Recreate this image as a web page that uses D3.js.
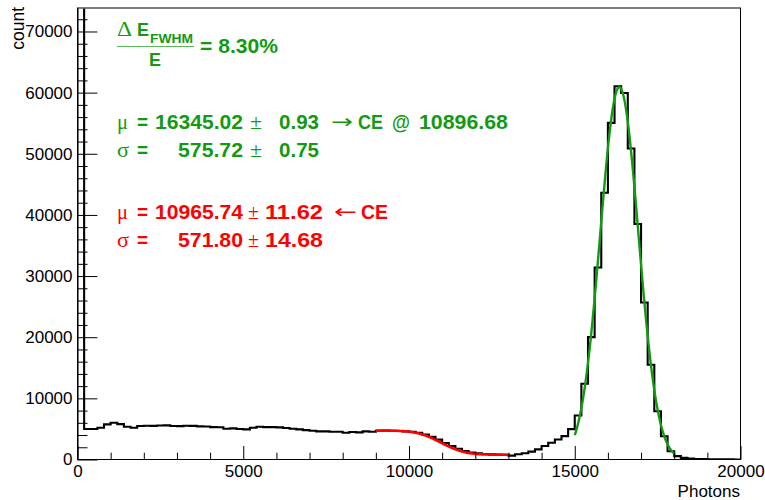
<!DOCTYPE html>
<html>
<head>
<meta charset="utf-8">
<script src="https://cdn.jsdelivr.net/npm/d3@7"></script>
<style>
  body { margin: 0; background: #fff; }
  svg { display: block; }
</style>
</head>
<body>
<svg id="chart" width="765" height="500"></svg>
<script>
// Photon-count histogram: 100 bins of 200 photons from 0 to 20000
const binWidth = 200;
const xRange = [0, 20000];
const counts = [
  90000, 4980, 5000, 5200, 5740, 6010, 5790, 5360, 5200, 5470,
  5520, 5500, 5560, 5580, 5480, 5460, 5520, 5500, 5420, 5400,
  5300, 5280, 5030, 5090, 4980, 4930, 5200, 5360, 5300, 5300,
  5250, 5140, 5030, 4930, 4810, 4700, 4600, 4600, 4540, 4540,
  4370, 4490, 4430, 4600, 4540, 4700, 4720, 4700, 4650, 4600,
  4520, 4380, 4100, 3700, 3250, 2700, 2200, 1750, 1400, 1150,
  1000, 900, 850, 800, 760, 640, 850, 1010, 1280, 1650,
  2200, 2740, 3280, 3820, 4960, 7200, 12400, 20020, 31390, 43630,
  55060, 61040, 59950, 50870, 38520, 25680, 15500, 7890, 3810, 1360,
  550, 270, 150, 90, 60, 40, 30, 20, 15, 10
];

// Axis ticks
const xMajorTicks = [0, 5000, 10000, 15000, 20000];
const xMinorTicks = [1000, 2000, 3000, 4000, 6000, 7000, 8000, 9000, 11000, 12000, 13000, 14000, 16000, 17000, 18000, 19000];
const yMajorTicks = [0, 10000, 20000, 30000, 40000, 50000, 60000, 70000];
const yMinorTicks = [2000, 4000, 6000, 8000, 12000, 14000, 16000, 18000, 22000, 24000, 26000, 28000,
  32000, 34000, 36000, 38000, 42000, 44000, 46000, 48000, 52000, 54000, 56000, 58000,
  62000, 64000, 66000, 68000, 72000];
const yMax = 73760;

// Fit results
const peakFit = { amp: 60900, mu: 16345.02, sigma: 575.72, from: 15000, to: 18000 };
const edgeFit = { amp: 3950, base: 780, mu: 10965.74, sigma: 571.80, from: 9000, to: 13000 };

const GREEN = "#139a13";
const RED = "#ff0000";
const SANS = "'Liberation Sans', Arial, Helvetica, sans-serif";
const SYMB = "'Liberation Serif', 'Times New Roman', serif";
const ARROW = "'DejaVu Sans', sans-serif";

const svg = d3.select("#chart");
const x = d3.scaleLinear().domain(xRange).range([77.5, 740.5]);
const y = d3.scaleLinear().domain([0, yMax]).range([459.5, 8.5]);

svg.append("defs").append("clipPath").attr("id", "frame")
  .append("rect").attr("x", x(0)).attr("y", y(yMax)).attr("width", x(20000) - x(0)).attr("height", y(0) - y(yMax));

// Histogram outline
const pts = [[0, 0]];
counts.forEach((c, i) => { pts.push([i * binWidth, c]); pts.push([(i + 1) * binWidth, c]); });
pts.push([xRange[1], 0]);
const line = d3.line().x(d => x(d[0])).y(d => y(d[1]));
svg.append("path").attr("clip-path", "url(#frame)")
  .attr("d", line(pts)).attr("fill", "none").attr("stroke", "#000").attr("stroke-width", 2.1)
  .attr("stroke-linejoin", "miter");

// erfc approximation (Abramowitz & Stegun 7.1.26)
function erfc(z) {
  const t = 1 / (1 + 0.3275911 * Math.abs(z));
  const p = t * (0.254829592 + t * (-0.284496736 + t * (1.421413741 + t * (-1.453152027 + t * 1.061405429))));
  const e = p * Math.exp(-z * z);
  return z >= 0 ? e : 2 - e;
}
function sample(f, a, b, n) { return d3.range(n + 1).map(i => { const v = a + (b - a) * i / n; return [v, f(v)]; }); }

const gauss = v => peakFit.amp * Math.exp(-0.5 * Math.pow((v - peakFit.mu) / peakFit.sigma, 2));
const edge = v => edgeFit.base + edgeFit.amp * 0.5 * erfc((v - edgeFit.mu) / (Math.SQRT2 * edgeFit.sigma));
const smooth = d3.line().x(d => x(d[0])).y(d => y(d[1])).curve(d3.curveMonotoneX);

svg.append("path").attr("d", smooth(sample(edge, edgeFit.from, edgeFit.to, 200)))
  .attr("fill", "none").attr("stroke", RED).attr("stroke-width", 2.6);
svg.append("path").attr("d", smooth(sample(gauss, peakFit.from, peakFit.to, 300)))
  .attr("fill", "none").attr("stroke", GREEN).attr("stroke-width", 2.4);

// Axes (ticks point inward, as on a ROOT frame)
function styleAxis(g) {
  g.select(".domain").remove();
  g.selectAll("line").attr("stroke", "#000").attr("stroke-width", 1);
  g.selectAll("text").attr("font-family", SANS).attr("font-size", 17).attr("fill", "#000");
}
svg.append("g").attr("transform", `translate(0,${y(0)})`)
  .call(d3.axisBottom(x).tickValues(xMinorTicks).tickSize(-6.8).tickFormat(""))
  .call(styleAxis);
svg.append("g").attr("transform", `translate(0,${y(0)})`)
  .call(d3.axisBottom(x).tickValues(xMajorTicks).tickSize(-13.5).tickPadding(5.5).tickFormat(d3.format("d")))
  .call(styleAxis);
svg.append("g").attr("transform", `translate(${x(0)},0)`)
  .call(d3.axisLeft(y).tickValues(yMinorTicks).tickSize(-10).tickFormat(""))
  .call(styleAxis);
svg.append("g").attr("transform", `translate(${x(0)},0)`)
  .call(d3.axisLeft(y).tickValues(yMajorTicks).tickSize(-19.9).tickPadding(5).tickFormat(d3.format("d")))
  .call(styleAxis);

// Frame
svg.append("rect").attr("x", x(0)).attr("y", y(yMax) - 0.5).attr("width", x(20000) - x(0)).attr("height", y(0) - y(yMax) + 0.5)
  .attr("fill", "none").attr("stroke", "#000").attr("stroke-width", 1);

// Axis titles
svg.append("text").attr("x", 740).attr("y", 496.5).attr("text-anchor", "end")
  .attr("font-family", SANS).attr("font-size", 17).text("Photons");
svg.append("text").attr("transform", "translate(23.5,7) rotate(-90)").attr("text-anchor", "end")
  .attr("font-family", SANS).attr("font-size", 17.5).text("count");

// Text tokens: [string, x, baseline, kind, size, width]; kind: 0 bold sans, 1 symbol, 2 arrow
function tokens(list, color) {
  list.forEach(([s, tx, ty, kind, size, w]) => {
    const t = svg.append("text").attr("x", tx).attr("y", ty).attr("fill", color)
      .attr("font-family", kind === 1 ? SYMB : kind === 2 ? ARROW : SANS)
      .attr("font-weight", kind ? "normal" : "bold")
      .attr("font-size", size).text(s);
    if (w) t.attr("textLength", w).attr("lengthAdjust", "spacingAndGlyphs");
  });
}

// Resolution fraction
tokens([
  ["\u0394", 117, 36, 1, 20, 15],
  ["E", 137, 36, 0, 19, 12],
  ["FWHM", 150, 42.7, 0, 13.5, 43],
  ["E", 149, 65.7, 0, 19, 12],
  ["= 8.30%", 200, 53.3, 0, 19.5, 78]
], GREEN);
svg.append("line").attr("x1", 117).attr("x2", 194).attr("y1", 46.5).attr("y2", 46.5)
  .attr("stroke", GREEN).attr("stroke-width", 1).attr("stroke-opacity", 0.7);

// Photopeak fit
tokens([
  ["\u03bc", 117, 129.3, 1, 21, 11],
  ["=", 137, 129.3, 0, 19.5, 11],
  ["16345.02", 155, 129.3, 0, 19.5, 88],
  ["\u00b1", 250, 129.3, 1, 21, 12],
  ["0.93", 279, 129.3, 0, 19.5, 40],
  ["\u2192", 331, 128.3, 2, 19, 22],
  ["CE", 358, 129.3, 0, 19.5, 25],
  ["@", 392, 129.3, 0, 19.5, 18],
  ["10896.68", 419, 129.3, 0, 19.5, 89],
  ["\u03c3", 117, 157.3, 1, 21, 12],
  ["=", 137, 157.3, 0, 19.5, 11],
  ["575.72", 178, 157.3, 0, 19.5, 65],
  ["\u00b1", 250, 157.3, 1, 21, 12],
  ["0.75", 279, 157.3, 0, 19.5, 40]
], GREEN);

// Compton-edge fit
tokens([
  ["\u03bc", 117, 219.3, 1, 21, 11],
  ["=", 137, 219.3, 0, 19.5, 11],
  ["10965.74", 155, 219.3, 0, 19.5, 88],
  ["\u00b1", 248, 219.3, 1, 21, 11],
  ["11.62", 265, 219.3, 0, 19.5, 58],
  ["\u2190", 334, 218.3, 2, 19, 23],
  ["CE", 361, 219.3, 0, 19.5, 27],
  ["\u03c3", 117, 246.7, 1, 21, 12],
  ["=", 137, 246.7, 0, 19.5, 11],
  ["571.80", 178, 246.7, 0, 19.5, 65],
  ["\u00b1", 248, 246.7, 1, 21, 11],
  ["14.68", 265, 246.7, 0, 19.5, 58]
], RED);
</script>
</body>
</html>
